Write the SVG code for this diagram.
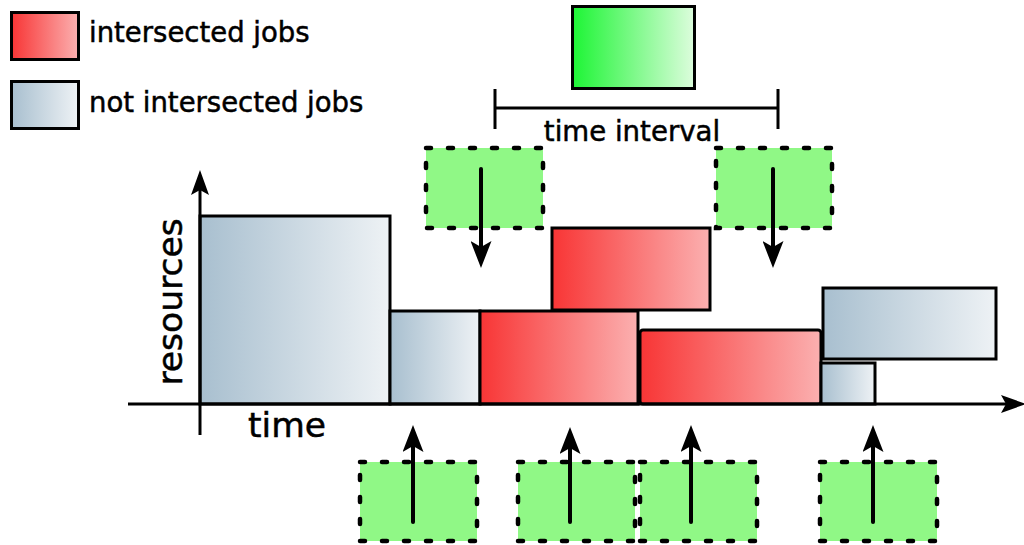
<svg xmlns="http://www.w3.org/2000/svg" width="1024" height="545" viewBox="0 0 1024 545">
<defs>
<linearGradient id="gRed" x1="0" y1="0" x2="1" y2="0"><stop offset="0" stop-color="#f83535"/><stop offset="1" stop-color="#fbb0b0"/></linearGradient>
<linearGradient id="gBlue" x1="0" y1="0" x2="1" y2="0"><stop offset="0" stop-color="#a8bfcf"/><stop offset="1" stop-color="#eef2f5"/></linearGradient>
<linearGradient id="gGreen" x1="0" y1="0" x2="1" y2="0"><stop offset="0" stop-color="#1df535"/><stop offset="1" stop-color="#ddfddd"/></linearGradient>
<marker id="ah" viewBox="0 0 27 21" refX="12" refY="10.5" markerWidth="27" markerHeight="21" orient="auto" markerUnits="userSpaceOnUse">
<path d="M0,0 L27,10.5 L0,21 L6,10.5 Z" fill="#000"/></marker>
<marker id="ah2" viewBox="0 0 25 18" refX="10" refY="9" markerWidth="25" markerHeight="18" orient="auto" markerUnits="userSpaceOnUse">
<path d="M0,0 L25,9 L0,18 L5,9 Z" fill="#000"/></marker>
<style>
.job{stroke:#000;stroke-width:3}
.red{fill:url(#gRed)}
.blue{fill:url(#gBlue)}
.win{fill:#90f886;stroke:#000;stroke-width:4.5;stroke-dasharray:5 17;stroke-linecap:round}
.arr{stroke:#000;stroke-width:4;fill:none;stroke-linecap:round;marker-end:url(#ah)}
.ax{stroke:#000;stroke-width:3;fill:none;marker-end:url(#ah2)}
.t{font-family:"DejaVu Sans",sans-serif;fill:#000;stroke:#000;stroke-width:0.5}
</style>
</defs>
<rect width="1024" height="545" fill="#fff"/>
<g id="legend">
<rect class="job red" x="11.5" y="12.5" width="67" height="47"/>
<text class="t" x="89" y="42" font-size="27.5">intersected jobs</text>
<rect class="job blue" x="11.5" y="81.5" width="67" height="47"/>
<text class="t" x="89" y="112" font-size="27.5">not intersected jobs</text>
</g>
<g id="interval">
<rect x="572.5" y="6.5" width="122" height="82" fill="url(#gGreen)" stroke="#000" stroke-width="3"/>
<path d="M495,89 V129 M778,89 V129 M495,108 H778" stroke="#000" stroke-width="3" fill="none"/>
<text class="t" x="632" y="141" font-size="27.6" text-anchor="middle">time interval</text>
</g>
<g id="jobs">
<rect class="job blue" x="200" y="216" width="190" height="188"/>
<rect class="job blue" x="390" y="311" width="90" height="93"/>
<rect class="job red" x="480" y="311" width="158" height="93"/>
<rect class="job red" x="552" y="228" width="158" height="82"/>
<rect class="job red" x="640" y="330" width="181" height="74" rx="3"/>
<rect class="job blue" x="821" y="363" width="54" height="41"/>
<rect class="job blue" x="823" y="288" width="173" height="71"/>
</g>
<g id="windows">
<rect class="win" x="426" y="148" width="117" height="80"/>
<rect class="win" x="716" y="148" width="116" height="80"/>
<rect class="win" x="360" y="462" width="117" height="79"/>
<rect class="win" x="518" y="462" width="117" height="79"/>
<rect class="win" x="640" y="462" width="117" height="79"/>
<rect class="win" x="820" y="462" width="117" height="79"/>
</g>
<g id="connectors">
<line class="ax" x1="200" y1="435" x2="200" y2="185"/>
<line class="ax" x1="128" y1="404" x2="1011" y2="404"/>
<line class="arr" x1="481" y1="169" x2="481" y2="253"/>
<line class="arr" x1="773" y1="169" x2="773" y2="253"/>
<line class="arr" x1="413" y1="522" x2="413" y2="440"/>
<line class="arr" x1="570" y1="522" x2="570" y2="442"/>
<line class="arr" x1="691" y1="522" x2="691" y2="440"/>
<line class="arr" x1="873" y1="522" x2="873" y2="440"/>
</g>
<g id="labels">
<text class="t" x="287" y="437" font-size="34.5" text-anchor="middle">time</text>
<text class="t" x="0" y="0" font-size="34.5" text-anchor="middle" transform="translate(182,302) rotate(-90)">resources</text>
</g>
</svg>
